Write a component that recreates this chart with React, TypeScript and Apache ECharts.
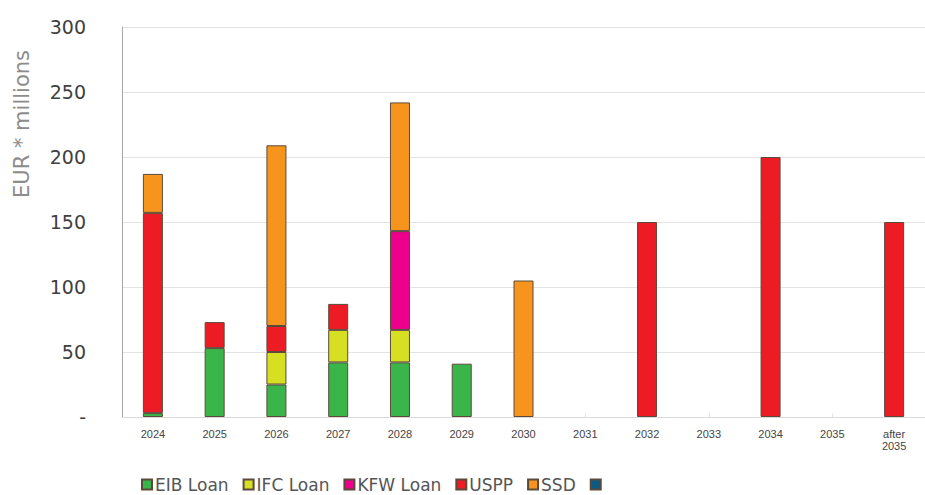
import React, { useEffect, useRef } from "react";
import * as echarts from "echarts";

const categories = ["2024", "2025", "2026", "2027", "2028", "2029", "2030", "2031", "2032", "2033", "2034", "2035", "after\n2035"];
const eibLoan = [3, 53, 25, 42, 42, 41, null, null, null, null, null, null, null];
const ifcLoan = [null, null, 25, 25, 25, null, null, null, null, null, null, null, null];
const kfwLoan = [null, null, null, null, 76, null, null, null, null, null, null, null, null];
const uspp = [154, 20, 20, 20, null, null, null, null, 150, null, 200, null, 150];
const ssd = [30, null, 139, null, 99, null, 105, null, null, null, null, null, null];
const other = [null, null, null, null, null, null, null, null, null, null, null, null, null];
const yTicks = [0, 50, 100, 150, 200, 250, 300];

const seriesDefs = [
  { name: "EIB Loan", data: eibLoan, color: "#39b54a" },
  { name: "IFC Loan", data: ifcLoan, color: "#d7df23" },
  { name: "KFW Loan", data: kfwLoan, color: "#ec008c" },
  { name: "USPP", data: uspp, color: "#ed1c24" },
  { name: "SSD", data: ssd, color: "#f7941d" },
  { name: " ", data: other, color: "#0b5a84" },
];

export default function App() {
  const ref = useRef<HTMLDivElement>(null);
  useEffect(() => {
    if (!ref.current) return;
    const chart = echarts.init(ref.current, null, { renderer: "svg" });
    chart.setOption({
      animation: false,
      backgroundColor: "#ffffff",
      grid: { left: 122, top: 27, width: 812, height: 390, containLabel: false },
      legend: {
        left: 141,
        top: 476,
        padding: 0,
        itemWidth: 10,
        itemHeight: 10,
        itemGap: 14,
        icon: "rect",
        data: seriesDefs.map((s) => s.name),
        textStyle: { fontFamily: "DejaVu Sans", fontSize: 17, color: "#555555", padding: [0, 0, 0, -2] },
      },
      graphic: [
        {
          type: "text",
          x: 22,
          y: 124,
          rotation: Math.PI / 2,
          style: {
            text: "EUR * millions",
            fontFamily: "DejaVu Sans",
            fontSize: 21,
            fill: "#8c8c8c",
            align: "center",
            verticalAlign: "middle",
          },
        },
      ],
      xAxis: {
        type: "category",
        data: categories,
        axisLine: { lineStyle: { color: "#d9d9d9", width: 1 } },
        axisTick: { show: true, alignWithLabel: true, inside: true, length: 4, lineStyle: { color: "#e6e6e6" } },
        axisLabel: { fontFamily: "Liberation Sans", fontSize: 11, color: "#444444", margin: 11, lineHeight: 12, interval: 0 },
      },
      yAxis: {
        type: "value",
        min: yTicks[0],
        max: yTicks[yTicks.length - 1],
        interval: 50,
        axisLine: { show: true, lineStyle: { color: "#a6a6a6", width: 1 } },
        axisTick: { show: false },
        splitLine: { lineStyle: { color: "#e3e3e3", width: 1 } },
        axisLabel: {
          fontFamily: "DejaVu Sans",
          fontSize: 19,
          color: "#404040",
          margin: 36,
          formatter: (v: number) => (v === 0 ? "-" : String(v)),
        },
      },
      series: seriesDefs.map((s) => ({
        name: s.name,
        type: "bar",
        stack: "total",
        barWidth: 20,
        data: s.data,
        itemStyle: { color: s.color, borderColor: "#5b4a3c", borderWidth: 1 },
      })),
    });
    return () => chart.dispose();
  }, []);
  return <div ref={ref} style={{ position: "fixed", left: 0, top: 0, width: 925, height: 495 }} />;
}
